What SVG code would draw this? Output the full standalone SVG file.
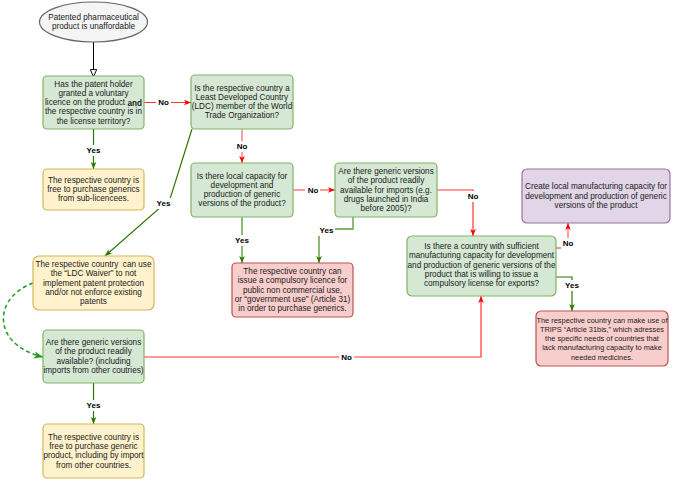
<svg xmlns="http://www.w3.org/2000/svg" width="685" height="481" viewBox="0 0 685 481">
<defs>
<style>
text{font-family:"Liberation Sans",Arial,sans-serif;font-size:8.2px;fill:#1a1a1a;text-anchor:middle;dominant-baseline:central}
.lbl{font-weight:bold;font-size:8px;fill:#000}
.lb{fill:#fff}
.g{fill:#d5e8d4;stroke:#82b366;stroke-width:1.2}
.y{fill:#fff2cc;stroke:#d6b656;stroke-width:1.2}
.r{fill:#f8cecc;stroke:#b85450;stroke-width:1.2}
.p{fill:#e1d5e7;stroke:#9673a6;stroke-width:1.2}
.e{fill:#f5f5f5;stroke:#666;stroke-width:1.2}
.cg{fill:none;stroke:#2d7600;stroke-width:1.2;marker-end:url(#ag)}
.cgl{fill:none;stroke:#82b366;stroke-width:1.8;marker-end:url(#ag)}
.cr{fill:none;stroke:#ff3333;stroke-width:1.2;marker-end:url(#ar)}
.crl{fill:none;stroke:#f19c99;stroke-width:1.8;marker-end:url(#ar)}
.cd{fill:none;stroke:#1f9b1f;stroke-width:1.5;stroke-dasharray:4 3;marker-end:url(#agd)}
</style>
<marker id="ag" viewBox="0 0 10 10" refX="10" refY="5" markerWidth="7" markerHeight="7" markerUnits="userSpaceOnUse" orient="auto"><path d="M0,1 L10,5 L0,9 L2.5,5 z" fill="#2d7600"/></marker>
<marker id="agd" viewBox="0 0 10 10" refX="10" refY="5" markerWidth="9" markerHeight="9" markerUnits="userSpaceOnUse" orient="auto"><path d="M0,1 L10,5 L0,9 L2.5,5 z" fill="#1f9b1f"/></marker>
<marker id="ar" viewBox="0 0 10 10" refX="10" refY="5" markerWidth="7" markerHeight="7" markerUnits="userSpaceOnUse" orient="auto"><path d="M0,1 L10,5 L0,9 L2.5,5 z" fill="#ff0000"/></marker>
<marker id="ah" viewBox="0 0 10 10" refX="10" refY="5" markerWidth="8" markerHeight="8" markerUnits="userSpaceOnUse" orient="auto"><path d="M0.5,1 L10,5 L0.5,9 z" fill="#fff" stroke="#000" stroke-width="1.2"/></marker>
</defs>
<rect width="685" height="481" fill="#fff"/>
<g id="connectors">
<path d="M93.5,42 L93.5,77" fill="none" stroke="#000" stroke-width="1" marker-end="url(#ah)"/>
<path class="cr" d="M144,102.5 L191,102.5"/>
<path class="crl" d="M242,129 L242,163"/>
<path class="cr" d="M293,190 L335,190"/>
<path class="cr" d="M437,190 L473,190 L473,236"/>
<path class="cgl" d="M242,217 L242,263"/>
<path class="cgl" d="M353,217 L353,229 L319,229 L319,263"/>
<path class="cg" d="M93.5,129 L93.5,169"/>
<path class="cg" d="M192,129 L170,199 L105,256"/>
<path class="cd" d="M33,283 C-8,298 -8,345 43,357"/>
<path class="cr" d="M144,357 L481,357 L481,296"/>
<path class="cg" d="M93.5,383 L93.5,424"/>
<path class="crl" d="M556,248 L568,248 L568,223"/>
<path class="cg" d="M556,277 L572,277 L572,311"/>
<g id="labels">
<rect class="lb" x="156" y="97" width="15" height="11"/><text class="lbl" x="163.5" y="102.5">No</text>
<rect class="lb" x="235" y="141" width="15" height="11"/><text class="lbl" x="242" y="146">No</text>
<rect class="lb" x="305" y="185" width="15" height="11"/><text class="lbl" x="313" y="190">No</text>
<rect class="lb" x="466" y="191" width="15" height="11"/><text class="lbl" x="473" y="196">No</text>
<rect class="lb" x="234" y="235" width="17" height="11"/><text class="lbl" x="242" y="240">Yes</text>
<rect class="lb" x="318" y="225" width="17" height="11"/><text class="lbl" x="326.5" y="230">Yes</text>
<rect class="lb" x="85" y="145" width="17" height="11"/><text class="lbl" x="93.5" y="150">Yes</text>
<rect class="lb" x="155" y="198" width="17" height="11"/><text class="lbl" x="163.5" y="203">Yes</text>
<rect class="lb" x="339" y="352" width="15" height="11"/><text class="lbl" x="346.5" y="357">No</text>
<rect class="lb" x="85" y="400" width="17" height="11"/><text class="lbl" x="93.5" y="405">Yes</text>
<rect class="lb" x="561" y="238" width="15" height="11"/><text class="lbl" x="568" y="243">No</text>
<rect class="lb" x="564" y="280" width="17" height="11"/><text class="lbl" x="572" y="285">Yes</text>
</g>
</g>
<g id="start">
<ellipse class="e" cx="93.5" cy="22" rx="54" ry="20"/>
<text x="93.5" y="17.3">Patented pharmaceutical</text>
<text x="93.5" y="26.7">product is unaffordable</text>
</g>
<g id="q-voluntary-licence">
<rect class="g" x="43" y="76" width="101" height="53" rx="4"/>
<text x="93.5" y="84">Has the patent holder</text>
<text x="93.5" y="93.3">granted a voluntary</text>
<text x="93.5" y="102.6">licence on the product <tspan font-weight="bold">and</tspan></text>
<text x="93.5" y="111.9">the respective country is in</text>
<text x="93.5" y="121.2">the license territory?</text>
</g>
<g id="q-ldc">
<rect class="g" x="191" y="75" width="102" height="54" rx="4"/>
<text x="242" y="88">Is the respective country a</text>
<text x="242" y="97.3">Least Developed Country</text>
<text x="242" y="106.6">(LDC) member of the World</text>
<text x="242" y="115.9">Trade Organization?</text>
</g>
<g id="a-sublicencees">
<rect class="y" x="43" y="169" width="101" height="41" rx="4"/>
<text x="93.5" y="180.2">The respective country is</text>
<text x="93.5" y="189.5">free to purchase generics</text>
<text x="93.5" y="198.8">from sub-licencees.</text>
</g>
<g id="q-local-capacity">
<rect class="g" x="191" y="163" width="102" height="54" rx="4"/>
<text x="242" y="176">Is there local capacity for</text>
<text x="242" y="185.3">development and</text>
<text x="242" y="194.6">production of generic</text>
<text x="242" y="203.9">versions of the product?</text>
</g>
<g id="q-imports">
<rect class="g" x="335" y="163" width="102" height="54" rx="4"/>
<text x="386" y="171.4">Are there generic versions</text>
<text x="386" y="180.7">of the product readily</text>
<text x="386" y="190">available for imports (e.g.</text>
<text x="386" y="199.3">drugs launched in India</text>
<text x="386" y="208.6">before 2005)?</text>
</g>
<g id="a-compulsory-licence">
<rect class="r" x="232" y="263" width="121" height="54" rx="4"/>
<text x="292.5" y="271.4">The respective country can</text>
<text x="292.5" y="280.7">issue a compulsory licence for</text>
<text x="292.5" y="290">public non commercial use,</text>
<text x="292.5" y="299.3">or “government use” (Article 31)</text>
<text x="292.5" y="308.6">in order to purchase generics.</text>
</g>
<g id="a-ldc-waiver">
<rect class="y" x="33" y="256" width="121" height="54" rx="6"/>
<text x="93.5" y="264.6">The respective country &#160;can use</text>
<text x="93.5" y="273.9">the “LDC Waiver” to not</text>
<text x="93.5" y="283.2">implement patent protection</text>
<text x="93.5" y="292.5">and/or not enforce existing</text>
<text x="93.5" y="301.8">patents</text>
</g>
<g id="q-generics-available">
<rect class="g" x="43" y="330" width="101" height="53" rx="4"/>
<text x="93.5" y="342.5">Are there generic versions</text>
<text x="93.5" y="351.8">of the product readily</text>
<text x="93.5" y="361.1">available? (including</text>
<text x="93.5" y="370.4">imports from other coutries)</text>
</g>
<g id="a-purchase-generic">
<rect class="y" x="43" y="424" width="101" height="54" rx="4"/>
<text x="93.5" y="437.1">The respective country is</text>
<text x="93.5" y="446.4">free to purchase generic</text>
<text x="93.5" y="455.7">product, including by import</text>
<text x="93.5" y="465">from other countries.</text>
</g>
<g id="q-export-country">
<rect class="g" x="407" y="236" width="149" height="60" rx="5"/>
<text x="481.5" y="246.4">Is there a country with sufficient</text>
<text x="481.5" y="255.7">manufacturing capacity for development</text>
<text x="481.5" y="265">and production of generic versions of the</text>
<text x="481.5" y="274.3">product that is willing to issue a</text>
<text x="481.5" y="283.6">compulsory license for exports?</text>
</g>
<g id="a-create-capacity">
<rect class="p" x="522" y="169" width="148" height="54" rx="5"/>
<text x="596" y="186.7">Create local manufacturing capacity for</text>
<text x="596" y="196">development and production of generic</text>
<text x="596" y="205.3">versions of the product</text>
</g>
<g id="a-article-31bis">
<rect class="r" x="536" y="311" width="132" height="55" rx="5"/>
<text x="602" y="320" style="font-size:7.4px">The respective country can make use of</text>
<text x="602" y="329.3" style="font-size:7.4px">TRIPS “Article 31bis,” which adresses</text>
<text x="602" y="338.6" style="font-size:7.4px">the specific needs of countries that</text>
<text x="602" y="347.9" style="font-size:7.4px">lack manufacturing capacity to make</text>
<text x="602" y="357.2" style="font-size:7.4px">needed medicines.</text>
</g>
</svg>
